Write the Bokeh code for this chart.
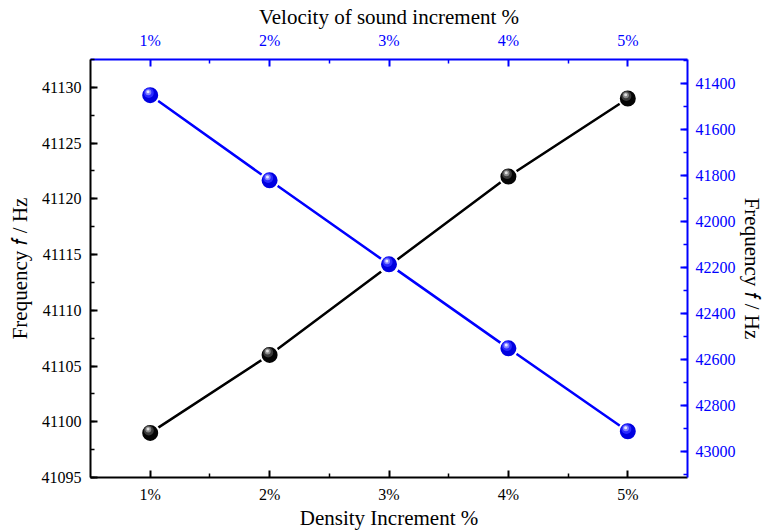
from bokeh.plotting import figure
from bokeh.models import Range1d, LinearAxis, FixedTicker, SingleIntervalTicker, ColumnDataSource
from bokeh.transform import dodge
from bokeh.embed import file_html
from bokeh.resources import INLINE

# ---- data ----
increments = [1, 2, 3, 4, 5]
tick_labels = ["1%", "2%", "3%", "4%", "5%"]
freq_density = [41099, 41106, 41114, 41122, 41129]      # left axis, black
freq_velocity = [41450, 41820, 42185, 42550, 42910]     # right axis (inverted), blue

FONT = "Liberation Serif"
BLUE = "#0000ff"

src = ColumnDataSource(dict(x=increments, yd=freq_density, yv=freq_velocity))

p = figure(width=766, height=532, output_backend="svg", toolbar_location=None,
           x_range=Range1d(0.5, 5.5), y_range=Range1d(41095, 41132.5),
           x_axis_location=None, y_axis_location=None,
           min_border_left=90, min_border_right=78, min_border_top=59, min_border_bottom=54)
p.extra_y_ranges = {"vel": Range1d(start=43111, end=41295)}
p.outline_line_color = None
p.xgrid.visible = False
p.ygrid.visible = False
p.background_fill_color = "white"
p.border_fill_color = "white"


def style(ax, color, label_color="black"):
    ax.axis_line_color = color
    ax.axis_line_width = 2
    ax.major_tick_line_color = color
    ax.major_tick_line_width = 2
    ax.minor_tick_line_color = color
    ax.minor_tick_line_width = 1.5
    ax.major_tick_in = 7
    ax.major_tick_out = 0
    ax.minor_tick_in = 4
    ax.minor_tick_out = 0
    ax.major_label_text_font = FONT
    ax.major_label_text_font_size = "16px"
    ax.major_label_text_color = color
    ax.axis_label_text_font = FONT
    ax.axis_label_text_font_size = "21px"
    ax.axis_label_text_font_style = "normal"
    ax.axis_label_text_color = label_color
    ax.major_label_standoff = 8
    ax.axis_label_standoff = 4


xt = FixedTicker(ticks=increments, minor_ticks=[1.5, 2.5, 3.5, 4.5])
overrides = {x: t for x, t in zip(increments, tick_labels)}

bottom = LinearAxis(ticker=xt, major_label_overrides=overrides, axis_label="Density Increment %")
style(bottom, "black")
bottom.major_label_standoff = 8
bottom.axis_label_standoff = 0
p.add_layout(bottom, "below")

top = LinearAxis(ticker=xt, major_label_overrides=overrides, axis_label="Velocity of sound increment %")
style(top, BLUE)
top.major_label_standoff = 11
top.axis_label_standoff = 0
p.add_layout(top, "above")

left = LinearAxis(ticker=SingleIntervalTicker(interval=5, num_minor_ticks=2),
                  axis_label="Frequency \U0001D453 / Hz")
style(left, "black")
left.major_label_standoff = 9
left.axis_label_standoff = 7
p.add_layout(left, "left")

right = LinearAxis(y_range_name="vel", ticker=SingleIntervalTicker(interval=200, num_minor_ticks=2),
                   axis_label="Frequency \U0001D453 / Hz")
style(right, BLUE)
right.major_label_standoff = 8
right.axis_label_standoff = 1
p.add_layout(right, "right")

# lines
p.line("x", "yd", source=src, line_color="black", line_width=2.5)
p.line("x", "yv", source=src, y_range_name="vel", line_color=BLUE, line_width=2.5)

# spheres (layered circles for a shaded look)
p.scatter("x", "yd", source=src, size=18, fill_color="#050505", line_color="white", line_width=2)
p.scatter(dodge("x", -0.012, range=p.x_range), dodge("yd", 0.22, range=p.y_range), source=src,
          size=10, fill_color="#3a3a3a", line_color=None)
p.scatter(dodge("x", -0.016, range=p.x_range), dodge("yd", 0.3, range=p.y_range), source=src,
          size=6, fill_color="#8a8a8a", line_color=None)
p.scatter(dodge("x", -0.018, range=p.x_range), dodge("yd", 0.34, range=p.y_range), source=src,
          size=3, fill_color="#e0e0e0", line_color=None)

p.scatter("x", "yv", source=src, y_range_name="vel", size=18, fill_color="#0000e0",
          line_color="white", line_width=2)
p.scatter(dodge("x", -0.012, range=p.x_range), dodge("yv", -10, range=p.extra_y_ranges["vel"]),
          source=src, y_range_name="vel", size=10, fill_color="#2a2aff", line_color=None)
p.scatter(dodge("x", -0.016, range=p.x_range), dodge("yv", -13, range=p.extra_y_ranges["vel"]),
          source=src, y_range_name="vel", size=6, fill_color="#8080ff", line_color=None)
p.scatter(dodge("x", -0.018, range=p.x_range), dodge("yv", -15, range=p.extra_y_ranges["vel"]),
          source=src, y_range_name="vel", size=3, fill_color="#e8e8ff", line_color=None)

open("out.html", "w").write(file_html(p, INLINE))
